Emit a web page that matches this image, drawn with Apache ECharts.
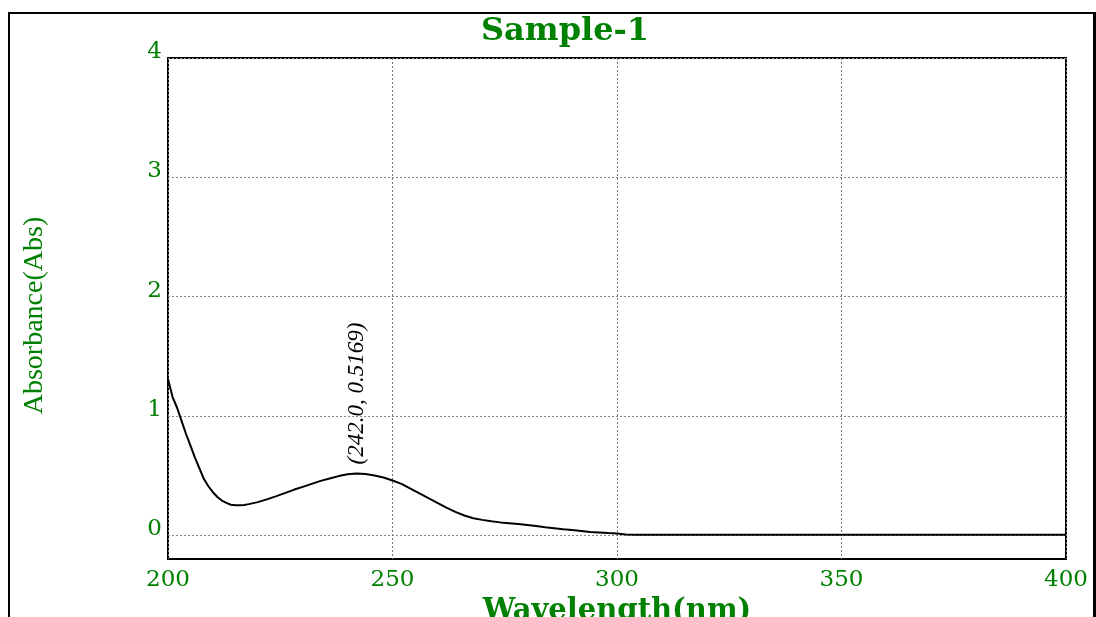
<!DOCTYPE html>
<html lang="en">
<head>
    <meta charset="UTF-8">
    <title>Sample-1</title>
    <script src="https://cdn.jsdelivr.net/npm/echarts@6.0.0/dist/echarts.min.js"></script>
    <style>
        html, body { margin: 0; padding: 0; background: #fff; overflow: hidden; }
        #main { position: absolute; left: 0; top: 0; width: 1096px; height: 617px; }
        /* outer frame of the instrument printout (no bottom edge) */
        #frame { position: absolute; left: 8px; top: 12px; width: 1083px; height: 620px;
                 border: 2px solid #000; border-right-width: 3px; border-bottom: none;
                 pointer-events: none; }
    </style>
</head>
<body>
<div id="main"></div>
<div id="frame"></div>
<script type="text/javascript">
    // wavelength (nm) / absorbance
    var wavelength = [200, 201, 202, 203, 204, 205, 206, 207, 208, 209, 210, 211, 212, 213, 214, 215, 216, 217, 218,
        220, 222, 224, 226, 228, 230, 232, 234, 236, 238, 240, 242, 244, 246, 248, 250, 252, 254, 256, 258, 260,
        262, 264, 266, 268, 270, 272, 274, 276, 278, 280, 282, 284, 286, 288, 290, 292, 294, 296, 298, 300, 302,
        304, 320, 340, 360, 380, 400];
    var absorbance = [1.31, 1.16, 1.07, 0.96, 0.85, 0.75, 0.65, 0.56, 0.47, 0.41, 0.36, 0.32, 0.29, 0.27, 0.255, 0.25, 0.25, 0.252, 0.26,
        0.277, 0.30, 0.325, 0.352, 0.38, 0.405, 0.43, 0.455, 0.475, 0.495, 0.51, 0.517, 0.513, 0.50, 0.483, 0.458, 0.43, 0.39, 0.35, 0.31, 0.27,
        0.23, 0.195, 0.165, 0.142, 0.128, 0.116, 0.107, 0.10, 0.093, 0.085, 0.076, 0.066, 0.058, 0.05, 0.043, 0.035, 0.027, 0.022, 0.017, 0.013, 0.006,
        0.004, 0.004, 0.004, 0.004, 0.004, 0.004];
    var yTicks = [0, 1, 2, 3, 4];
    var peak = [242.0, 0.5169];

    var green = '#008000';
    var points = [];
    for (var i = 0; i < wavelength.length; i++) {
        points.push([wavelength[i], absorbance[i]]);
    }

    var myChart = echarts.init(document.getElementById('main'));
    myChart.setOption({
        animation: false,
        title: {
            text: 'Sample-1',
            left: 560,
            textAlign: 'center',
            top: 11,
            textStyle: { color: green, fontFamily: 'DejaVu Serif', fontWeight: 'bold', fontSize: 32 }
        },
        grid: {
            left: 168, right: 30, top: 58, bottom: 58,
            outerBoundsMode: 'none',
            show: true, borderColor: '#000', borderWidth: 2
        },
        xAxis: {
            type: 'value',
            min: 200, max: 400, interval: 50,
            axisLine: { show: false },
            axisTick: { show: false },
            splitLine: { show: true, lineStyle: { color: '#777', width: 1, type: [2, 2] } },
            axisLabel: { color: green, fontFamily: 'DejaVu Serif', fontSize: 23, margin: 10 },
            name: 'Wavelength(nm)',
            nameLocation: 'middle',
            nameGap: 27,
            nameTextStyle: { color: green, fontFamily: 'DejaVu Serif', fontWeight: 'bold', fontSize: 29 }
        },
        yAxis: {
            type: 'value',
            min: -0.2, max: 4,
            axisLine: { show: false },
            axisTick: { show: false, customValues: yTicks },
            splitLine: { show: true, lineStyle: { color: '#888', width: 1, type: [2, 2] } },
            axisLabel: {
                customValues: yTicks,
                color: green, fontFamily: 'DejaVu Serif', fontSize: 23, margin: 6,
                verticalAlign: 'bottom', lineHeight: 12
            },
            name: 'Absorbance(Abs)',
            nameLocation: 'middle',
            nameGap: 119,
            nameTextStyle: { color: green, fontFamily: 'Liberation Serif', fontSize: 28, padding: [0, 14, 0, 0] }
        },
        series: [{
            type: 'line',
            data: points,
            symbol: 'none',
            lineStyle: { color: '#000', width: 2 },
            markPoint: {
                symbol: 'circle',
                symbolSize: 0,
                data: [{ coord: peak }],
                label: {
                    show: true,
                    formatter: '(' + peak[0].toFixed(1) + ', ' + peak[1].toFixed(4) + ')',
                    rotate: 90,
                    position: 'top',
                    align: 'left',
                    verticalAlign: 'middle',
                    distance: 2,
                    offset: [7, 0],
                    color: '#000',
                    fontFamily: 'Liberation Serif',
                    fontStyle: 'italic',
                    fontSize: 23
                }
            }
        }]
    });
</script>
</body>
</html>
